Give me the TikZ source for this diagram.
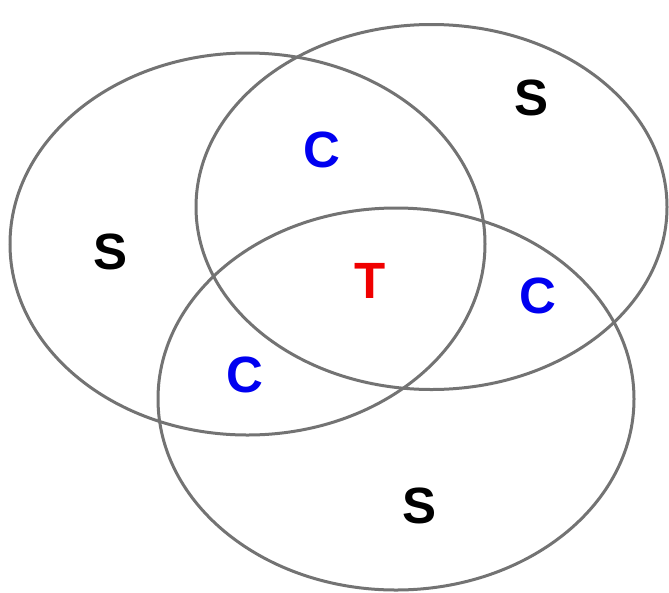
\documentclass[tikz,border=0pt]{standalone}
\usepackage{fontspec}
\setmainfont{Liberation Sans}
\definecolor{ringgray}{RGB}{115,115,115}
\definecolor{cblue}{RGB}{0,0,240}
\definecolor{tred}{RGB}{240,0,0}
\begin{document}
\begin{tikzpicture}[x=1pt,y=-1pt,
  ring/.style={draw=ringgray,line width=3pt},
  lab/.style={font=\fontsize{51}{60}\selectfont\bfseries,inner sep=0pt}]
\useasboundingbox (0,0) rectangle (669,592);
\draw[ring] (247.5,244) ellipse [x radius=237.5, y radius=191];
\draw[ring] (431.5,207) ellipse [x radius=235.5, y radius=182.5];
\draw[ring] (396,399) ellipse [x radius=238, y radius=191];
\node[lab] (s1) at (111,252) {S};
\node[lab] (s2) at (532,98) {S};
\node[lab] (s3) at (420,506) {S};
\node[lab,text=cblue] (c1) at (322,150) {C};
\node[lab,text=cblue] (c2) at (538,296) {C};
\node[lab,text=cblue] (c3) at (245,375) {C};
\node[lab,text=tred] (t) at (370,281) {T};
\end{tikzpicture}
\end{document}
